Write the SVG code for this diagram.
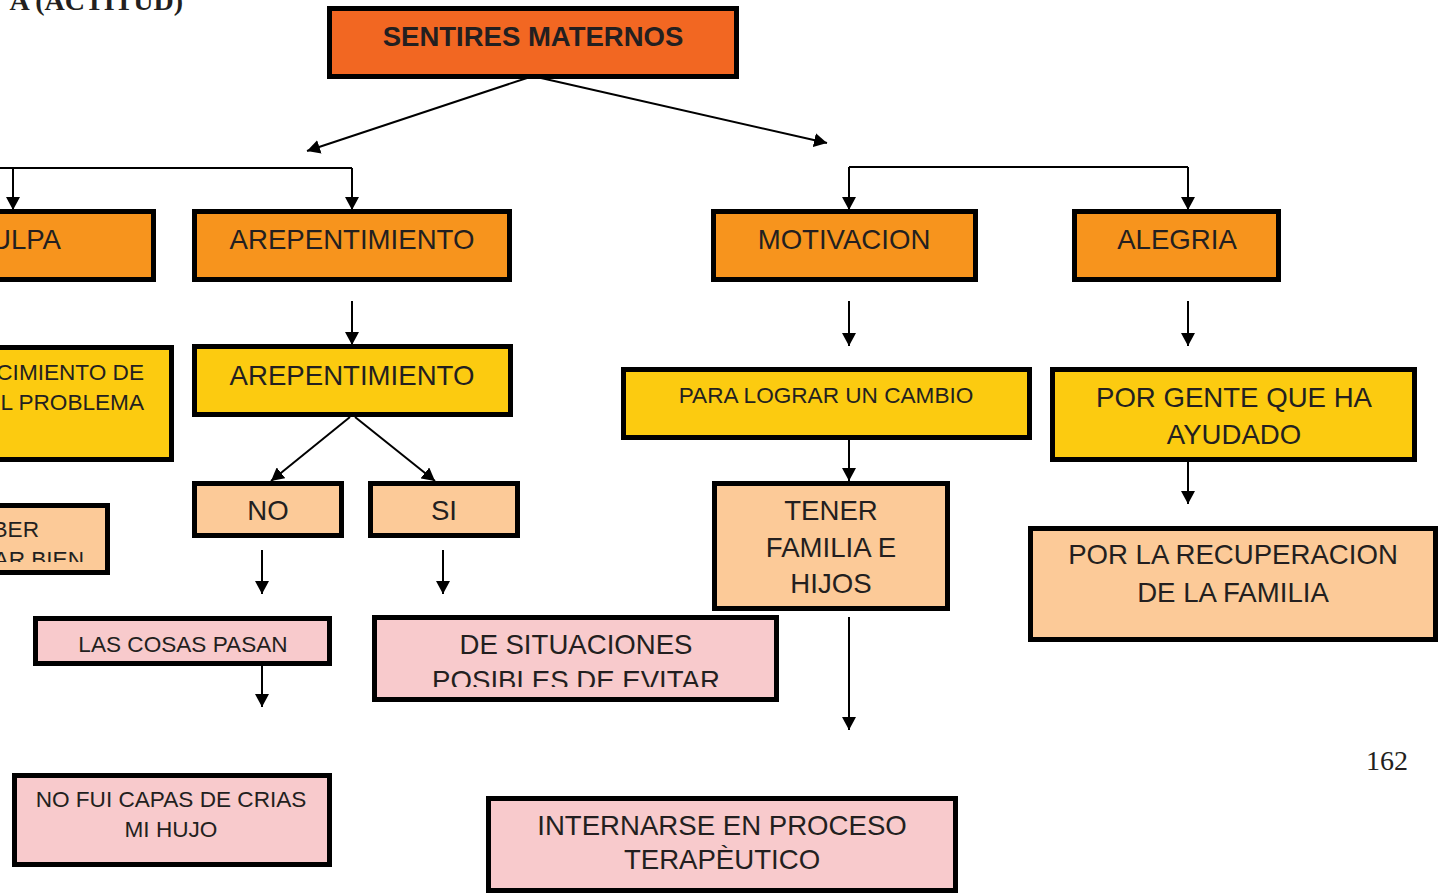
<svg xmlns="http://www.w3.org/2000/svg" width="1444" height="894" viewBox="0 0 1444 894">
<style>
.box{stroke:#000;stroke-width:5}
.o1{fill:#F26722}.o2{fill:#F7941D}.ye{fill:#FCCB10}.pe{fill:#FCCA98}.pk{fill:#F8CACC}
.t{font-family:"Liberation Sans",Arial,sans-serif;fill:#231F20;text-anchor:middle}
.s27{font-size:27.6px}.s22{font-size:22.6px}
.e{text-anchor:end}
.c{fill:none;stroke:#000;stroke-width:2}
.ser{font-family:"Liberation Serif","Times New Roman",serif;fill:#231F20}
</style>
<defs>
<marker id="ah" viewBox="0 0 13 14" refX="13" refY="7" markerWidth="13" markerHeight="14" orient="auto" markerUnits="userSpaceOnUse"><path d="M0,0 L13,7 L0,14 z" fill="#000"/></marker>
<clipPath id="clipPos"><rect x="0" y="0" width="1444" height="687"/></clipPath>
<clipPath id="clipBien"><rect x="0" y="0" width="1444" height="562"/></clipPath>
</defs>
<rect width="1444" height="894" fill="#fff"/>
<text class="ser" x="183" y="10" font-size="28" font-weight="bold" text-anchor="end">A (ACTITUD)</text>
<text class="ser" x="1387" y="770" font-size="28" text-anchor="middle">162</text>

<g id="connectors">
<path class="c" d="M527,78 L307,151" marker-end="url(#ah)"/>
<path class="c" d="M541,78 L827,143" marker-end="url(#ah)"/>
<path class="c" d="M0,168 H352"/>
<path class="c" d="M13,168 V210" marker-end="url(#ah)"/>
<path class="c" d="M352,168 V210" marker-end="url(#ah)"/>
<path class="c" d="M849,167 H1188"/>
<path class="c" d="M849,167 V210" marker-end="url(#ah)"/>
<path class="c" d="M1188,167 V210" marker-end="url(#ah)"/>
<path class="c" d="M352,301 V345" marker-end="url(#ah)"/>
<path class="c" d="M849,301 V346" marker-end="url(#ah)"/>
<path class="c" d="M1188,301 V346" marker-end="url(#ah)"/>
<path class="c" d="M350,417 L271,481" marker-end="url(#ah)"/>
<path class="c" d="M355,417 L435,481" marker-end="url(#ah)"/>
<path class="c" d="M262,550 V594" marker-end="url(#ah)"/>
<path class="c" d="M443,550 V594" marker-end="url(#ah)"/>
<path class="c" d="M262,665 V707" marker-end="url(#ah)"/>
<path class="c" d="M849,440 V481" marker-end="url(#ah)"/>
<path class="c" d="M1188,462 V504" marker-end="url(#ah)"/>
<path class="c" d="M849,617 V730" marker-end="url(#ah)"/>
</g>

<g id="sentires"><rect class="box o1" x="329.5" y="8.5" width="407" height="68"/><text class="t" x="533" y="46" font-size="27.5" font-weight="bold">SENTIRES MATERNOS</text></g>
<g id="culpa"><rect class="box o2" x="-20" y="211.5" width="173.5" height="68"/><text class="t s27 e" x="61" y="249">ULPA</text></g>
<g id="arrepentimiento1"><rect class="box o2" x="194.5" y="211.5" width="315" height="68"/><text class="t s27" x="352" y="249">AREPENTIMIENTO</text></g>
<g id="motivacion"><rect class="box o2" x="713.5" y="211.5" width="262" height="68"/><text class="t s27" x="844" y="249">MOTIVACION</text></g>
<g id="alegria"><rect class="box o2" x="1074.5" y="211.5" width="204" height="68"/><text class="t s27" x="1177" y="249">ALEGRIA</text></g>
<g id="conocimiento"><rect class="box ye" x="-20" y="347.5" width="191.5" height="112"/><text class="t s22 e" x="144" y="380">CIMIENTO DE</text><text class="t s22 e" x="144" y="410">L PROBLEMA</text></g>
<g id="arrepentimiento2"><rect class="box ye" x="194.5" y="346.5" width="316" height="68"/><text class="t s27" x="352" y="385">AREPENTIMIENTO</text></g>
<g id="paralograr"><rect class="box ye" x="623.5" y="369.5" width="406" height="68"/><text class="t s22" x="826" y="403">PARA LOGRAR UN CAMBIO</text></g>
<g id="porgente"><rect class="box ye" x="1052.5" y="369.5" width="362" height="90"/><text class="t s27" x="1234" y="407">POR GENTE QUE HA</text><text class="t s27" x="1234" y="444">AYUDADO</text></g>
<g id="saber"><rect class="box pe" x="-20" y="505.5" width="127.5" height="67"/><text class="t s22 e" x="39" y="537">BER</text><text class="t s22 e" x="84" y="567" clip-path="url(#clipBien)">AR BIEN</text></g>
<g id="no"><rect class="box pe" x="194.5" y="483.5" width="147" height="52"/><text class="t s27" x="268" y="520">NO</text></g>
<g id="si"><rect class="box pe" x="370.5" y="483.5" width="147" height="52"/><text class="t s27" x="444" y="520">SI</text></g>
<g id="tener"><rect class="box pe" x="714.5" y="483.5" width="233" height="125"/><text class="t s27" x="831" y="520">TENER</text><text class="t s27" x="831" y="557">FAMILIA E</text><text class="t s27" x="831" y="593">HIJOS</text></g>
<g id="recuperacion"><rect class="box pe" x="1030.5" y="528.5" width="405" height="111"/><text class="t s27" x="1233" y="564">POR LA RECUPERACION</text><text class="t s27" x="1233" y="602">DE LA FAMILIA</text></g>
<g id="lascosas"><rect class="box pk" x="35.5" y="618.5" width="294" height="45"/><text class="t s22" x="183" y="652">LAS COSAS PASAN</text></g>
<g id="situaciones"><rect class="box pk" x="374.5" y="617.5" width="402" height="82"/><text class="t s27" x="576" y="654">DE SITUACIONES</text><text class="t s27" x="576" y="690" clip-path="url(#clipPos)">POSIBLES DE EVITAR</text></g>
<g id="nofui"><rect class="box pk" x="14.5" y="775.5" width="315" height="89"/><text class="t s22" x="171" y="807">NO FUI CAPAS DE CRIAS</text><text class="t s22" x="171" y="837">MI HUJO</text></g>
<g id="internarse"><rect class="box pk" x="488.5" y="798.5" width="467" height="92"/><text class="t s27" x="722" y="835">INTERNARSE EN PROCESO</text><text class="t s27" x="722" y="869">TERAPÈUTICO</text></g>
</svg>
